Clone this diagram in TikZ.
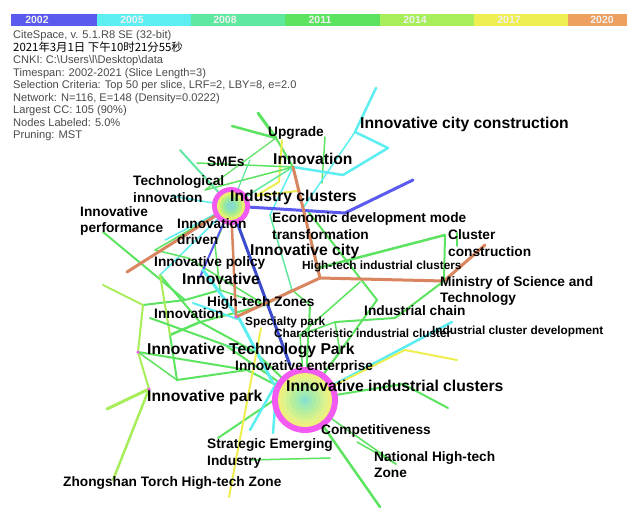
\documentclass[tikz,border=0pt]{standalone}
\usepackage{fontspec}
\setmainfont{Liberation Sans}
\newfontfamily\cjk{Noto Sans CJK SC}
\definecolor{c02}{HTML}{5A5AEE}
\definecolor{c02d}{HTML}{3A4CCC}
\definecolor{c05}{HTML}{5CEEF0}
\definecolor{c08}{HTML}{5EE8A0}
\definecolor{c11}{HTML}{5CE460}
\definecolor{c14}{HTML}{A8EE5A}
\definecolor{c17}{HTML}{EEEE50}
\definecolor{c20}{HTML}{EEA060}
\definecolor{e20c}{HTML}{D88560}
\definecolor{mag}{HTML}{F25AF2}
\definecolor{leg}{HTML}{4A4A4A}
\tikzset{
  ed/.style={line cap=round,line join=round},
  e02/.style={ed,draw=c02,line width=#1}, e02/.default=2.5pt,
  e02d/.style={ed,draw=c02d,line width=#1}, e02d/.default=2.5pt,
  e05/.style={ed,draw=c05,line width=#1}, e05/.default=2pt,
  e08/.style={ed,draw=c08,line width=#1}, e08/.default=2pt,
  e11/.style={ed,draw=c11,line width=#1}, e11/.default=2pt,
  e14/.style={ed,draw=c14,line width=#1}, e14/.default=2pt,
  e17/.style={ed,draw=c17,line width=#1}, e17/.default=2pt,
  e20/.style={ed,draw=e20c,line width=#1}, e20/.default=3pt,
  yearlbl/.style={text=white!94!black,font=\fontsize{10.5}{11}\bfseries,inner sep=0pt},
  legtxt/.style={anchor=mid west,inner sep=0pt,yshift=-1pt,text=leg,font=\fontsize{11.1}{12}\selectfont},
  lblB/.style={anchor=mid west,inner sep=0pt,yshift=-2pt,font=\fontsize{15.7}{17}\bfseries},
  lblM/.style={anchor=mid west,inner sep=0pt,yshift=-2pt,font=\fontsize{13.7}{15}\bfseries},
  lblS/.style={anchor=mid west,inner sep=0pt,yshift=-1.5pt,font=\fontsize{11.8}{13}\bfseries},
  dot/.style={circle,fill=mag,inner sep=0pt,minimum size=3.5pt}
}
\begin{document}
\begin{tikzpicture}[x=1pt,y=-1pt]
\useasboundingbox (0,0) rectangle (627,509);
\fill[white] (0,0) rectangle (627,509);

% ---- colour bar
\foreach \c/\xa/\xb/\xl/\yr in {c02/11/97/37/2002,c05/97/191/132/2005,c08/191/285/225/2008,c11/285/380/320/2011,c14/380/474/415/2014,c17/474/568/509/2017,c20/568/627/602/2020}{
  \fill[\c] (\xa,13.5) rectangle (\xb,26);
  \node[yearlbl] (yr\yr) at (\xl,20) {\yr};
}

% ---- legend
\node[legtxt] (g1) at (13,35) {CiteSpace, v. 5.1.R8 SE (32-bit)};
\node[legtxt,text=black,font=\cjk\fontsize{11.4}{12}\selectfont] (g2) at (13,47.5) {2021年3月1日 下午10时21分55秒};
\node[legtxt] (g3) at (13,60) {CNKI: C:\textbackslash Users\textbackslash l\textbackslash Desktop\textbackslash data};
\node[legtxt] (g4) at (13,72.5) {Timespan: 2002-2021 (Slice Length=3)};
\node[legtxt] (g5) at (13,85) {Selection Criteria: Top 50 per slice, LRF=2, LBY=8, e=2.0};
\node[legtxt] (g6) at (13,97.5) {Network: N=116, E=148 (Density=0.0222)};
\node[legtxt] (g7) at (13,110) {Largest CC: 105 (90\%)};
\node[legtxt] (g8) at (13,122.5) {Nodes Labeled: 5.0\%};
\node[legtxt] (g9) at (13,135) {Pruning: MST};

% ---- coordinates
\coordinate (IC) at (231,206);
\coordinate (IIC) at (305,400);
\coordinate (INN) at (293,167);
\coordinate (UPG) at (276,138);
\coordinate (TG1) at (258,113);
\coordinate (TG2) at (232,126);
\coordinate (CY1) at (376,88);
\coordinate (CY2) at (355,132);
\coordinate (CY3) at (388,148);
\coordinate (CY4) at (343,175);
\coordinate (CY5) at (303,208);
\coordinate (G7a) at (325,137);
\coordinate (G7b) at (322,183);
\coordinate (Y1) at (282,140);
\coordinate (Y2) at (279,182);
\coordinate (Y3) at (256,196);
\coordinate (Y4) at (297,191);
\coordinate (SME) at (205,190);
\coordinate (SMEb) at (197,163);
\coordinate (LG1) at (180,150);
\coordinate (BL1) at (345,213);
\coordinate (BL2) at (413,180);
\coordinate (BLd) at (290,365);
\coordinate (BLc) at (200,277);
\coordinate (BR1) at (127,272);
\coordinate (HZ) at (236,317);
\coordinate (BRj) at (320,278);
\coordinate (MS) at (444,281);
\coordinate (BRe) at (485,245);
\coordinate (CC) at (445,235);
\coordinate (CCt) at (457,233);
\coordinate (CCb) at (457,246);
\coordinate (ICY) at (318,268);
\coordinate (ICH) at (395,318);
\coordinate (ICD) at (452,322);
\coordinate (YL1) at (405,350);
\coordinate (YL2) at (457,360);
\coordinate (GR1) at (403,384);
\coordinate (GR2) at (448,408);
\coordinate (GRB) at (380,507);
\coordinate (NHZ) at (396,464);
\coordinate (COMP) at (357,442);
\coordinate (ITP) at (138,352);
\coordinate (IP) at (149,389);
\coordinate (ZT) at (113,480);
\coordinate (IPL) at (107,409);
\coordinate (LFT) at (103,285);
\coordinate (LFTj) at (143,305);
\coordinate (IPF) at (103,232);
\coordinate (CYa) at (203,270);
\coordinate (CYb) at (240,320);
\coordinate (CYc) at (273,383);
\coordinate (CYd) at (250,430);
\coordinate (CYe) at (273,433);
\coordinate (CYf) at (277,382);
\coordinate (CYg) at (172,196);
\coordinate (CYh) at (165,240);
\coordinate (CYi) at (193,303);
\coordinate (YLa) at (261,328);
\coordinate (YLb) at (229,497);
\coordinate (G8a) at (307,210);
\coordinate (M1) at (160,275);
\coordinate (M2) at (185,300);
\coordinate (M3) at (200,322);
\coordinate (M4) at (170,335);
\coordinate (M5) at (220,290);
\coordinate (M6) at (265,305);
\coordinate (M7) at (292,290);
\coordinate (M8) at (310,305);
\coordinate (M9) at (255,352);
\coordinate (M10) at (177,380);
\coordinate (M11) at (247,370);
\coordinate (M12) at (300,335);
\coordinate (M13) at (335,322);
\coordinate (M14) at (377,300);
\coordinate (M15) at (218,438);
\coordinate (M16) at (280,396);
\coordinate (M17) at (250,460);
\coordinate (M18) at (330,458);
\coordinate (M19) at (155,250);
\coordinate (M20) at (215,245);
\coordinate (M21) at (270,215);
\coordinate (M22) at (360,282);
\coordinate (M23) at (150,318);
\coordinate (M24) at (225,345);
\coordinate (M25) at (188,258);
\coordinate (M26) at (250,160);
\coordinate (M27) at (340,352);

% ---- edges
\draw[e11=3pt] (TG1) -- (UPG);
\draw[e11=2.5pt] (TG2) -- (UPG);
\draw[e11=2pt] (UPG) -- (INN);
\draw[e11=1.2pt] (UPG) -- (SME);
\draw[e17=2pt] (Y1) -- (Y2) -- (Y3);
\draw[e17=2pt] (Y3) -- (Y4);
\draw[e11=1.5pt] (G7a) -- (G7b);
\draw[e05=2.5pt] (CY1) -- (CY2) -- (CY3) -- (CY4) -- (INN);
\draw[e05=1.5pt] (CY2) -- (CY5);
\draw[e11=1.5pt] (SMEb) -- (INN);
\draw[e11=1.5pt] (SME) -- (INN);
\draw[e08=1.5pt] (INN) -- (IC);
\draw[e11=2pt] (INN) -- (ICY);
\draw[e05=1.5pt] (INN) -- (M21);
\draw[e08=1.2pt] (M26) -- (IC);
\draw[e08=2pt] (LG1) -- (IC);
\draw[e05=1.5pt] (CYg) -- (IC);
\draw[e05=1.5pt] (CYh) -- (IC);
\draw[e05=1.5pt] (M1) -- (IC);
\draw[e11=1.5pt] (M19) -- (IC);
\draw[e11=1.5pt] (M20) -- (IC);
\draw[e11=1.5pt] (M20) -- (M5);
\draw[e08=1.5pt] (M21) -- (M7);
\draw[e11=2pt] (IPF) -- (M2);
\draw[e11=2pt] (G8a) -- (M14);
\draw[e11=2pt] (M14) -- (IIC);
\draw[e11=1.5pt] (M22) -- (M12);
% central mesh
\draw[e11=2pt] (M1) -- (M3);
\draw[e11=2pt] (M2) -- (M5);
\draw[e11=2pt] (M3) -- (M6);
\draw[e11=2.5pt] (M4) -- (M3);
\draw[e11=2pt] (M4) -- (M10);
\draw[e11=2pt] (M10) -- (M11);
\draw[e11=2pt] (M11) -- (IIC);
\draw[e11=2pt] (M6) -- (M7);
\draw[e11=1.5pt] (M7) -- (M8);
\draw[e11=2pt] (M8) -- (IIC);
\draw[e11=2pt] (M9) -- (IIC);
\draw[e11=2pt] (M3) -- (M9);
\draw[e11=1.5pt] (M12) -- (M13);
\draw[e11=1.5pt] (M12) -- (IIC);
\draw[e11=2pt] (M15) -- (M16);
\draw[e11=2pt] (M16) -- (IIC);
\draw[e11=1.5pt] (M17) -- (M18);
\draw[e11=2pt] (LFTj) -- (M2);
\draw[e11=1.5pt] (M10) -- (ITP);
\draw[e11=2pt] (ITP) -- (M11);
\draw[e11=1.5pt] (M5) -- (M6);
\draw[e14=2pt] (M1) -- (M4);
\draw[e11=2pt] (M23) -- (M24) -- (IIC);
\draw[e11=1.5pt] (M25) -- (M6);
\draw[e11=1.5pt] (M25) -- (M19);
\draw[e08=1.5pt] (M24) -- (M9);
\draw[e11=1.5pt] (M27) -- (IIC);
\draw[e11=1.5pt] (M27) -- (M13);
% blue
\draw[e02=3pt] (IC) -- (BL1) -- (BL2);
\draw[e02d=3pt] (IC) -- (BLd);
\draw[e02=2pt] (IC) -- (BLc);
% cyan
\draw[e05=3pt] (CYa) -- (CYb) -- (CYc);
\draw[e05=2.5pt] (CYd) -- (CYf);
\draw[e05=2.5pt] (CYe) -- (CYf);
\draw[e05=2pt] (CYi) -- (CYb);
\draw[e05=2.5pt] (IIC) -- (ICD);
% yellow
\draw[e17=2pt] (YLa) -- (YLb);
\draw[e17=2pt] (IIC) -- (YL1) -- (YL2);
% brown
\draw[e20=3pt] (INN) -- (BRj);
\draw[e20=3pt] (IC) -- (BR1);
\draw[e20=2.5pt] (IC) -- (HZ);
\draw[e20=3pt] (HZ) -- (BRj) -- (MS) -- (BRe);
% right green
\draw[e11=2.5pt] (CC) -- (ICY);
\draw[e11=2pt] (CC) -- (MS);
\draw[e11=1.5pt] (CCt) -- (CCb);
\draw[e11=2pt] (MS) -- (ICH) -- (M13);
\draw[e11=2pt] (IIC) -- (GR1) -- (GR2);
\draw[e11=2.5pt] (IIC) -- (GRB);
\draw[e11=1.5pt] (IIC) -- (NHZ);
\draw[e11=1.5pt] (COMP) -- (NHZ);
% left light green
\draw[e14=2.5pt] (IP) -- (ZT);
\draw[e14=3pt] (IP) -- (IPL);
\draw[e14=2pt] (ITP) -- (IP);
\draw[e14=2pt] (ITP) -- (LFTj) -- (LFT);

% ---- cluster nodes
\node[circle,fill=mag,minimum size=66pt,inner sep=0pt] (nIIC) at (IIC) {};
\foreach \r/\col in {27/EEF07E,23/E0F28A,19/CCF092,15/B8EE9C,11/A8ECAA,7/98E8BC,3/88E0D0}{
  \definecolor{tmp}{HTML}{\col}\fill[tmp] (IIC) circle (\r pt);
}
\node[circle,fill=mag,minimum size=38pt,inner sep=0pt] (nIC) at (IC) {};
\foreach \r/\col in {14/E8F070,11/B8EE82,8/96E8A2,5/88DCC8}{
  \definecolor{tmp}{HTML}{\col}\fill[tmp] (IC) circle (\r pt);
}
\node[dot] (dITP) at (ITP) {};
\node[dot] (dIP) at (IP) {};
\node[dot,minimum size=3pt] (dHZ) at (HZ) {};

% ---- labels
\node[lblB] (lICC) at (360,124) {Innovative city construction};
\node[lblM] (lUPG) at (268,132) {Upgrade};
\node[lblB] (lINN) at (273,160) {Innovation};
\node[lblM] (lSME) at (207,162) {SMEs};
\node[lblB] (lIC) at (230,197) {Industry clusters};
\node[lblM] (lTI1) at (133,181) {Technological};
\node[lblM] (lTI2) at (133,198) {innovation};
\node[lblM] (lPF1) at (80,212) {Innovative};
\node[lblM] (lPF2) at (80,228) {performance};
\node[lblM] (lDR1) at (177,224) {Innovation};
\node[lblM] (lDR2) at (177,240) {driven};
\node[lblM] (lEC1) at (272,218) {Economic development mode};
\node[lblM] (lEC2) at (272,235) {transformation};
\node[lblB] (lCITY) at (250,251) {Innovative city};
\node[lblS] (lHTIC) at (302,265) {High-tech industrial clusters};
\node[lblM] (lCC1) at (448,235) {Cluster};
\node[lblM] (lCC2) at (448,252) {construction};
\node[lblM] (lMS1) at (440,282) {Ministry of Science and};
\node[lblM] (lMS2) at (440,298) {Technology};
\node[lblM] (lPOL) at (154,262) {Innovative policy};
\node[lblB] (lINV) at (182,280) {Innovative};
\node[lblM] (lHTZ) at (207,302) {High-tech Zones};
\node[lblM] (lIN3) at (154,314) {Innovation};
\node[lblS] (lSPP) at (245,321) {Specialty park};
\node[lblS] (lCHIC) at (274,333) {Characteristic industrial cluster};
\node[lblM] (lCHN) at (364,311) {Industrial chain};
\node[lblS] (lICD) at (432,330) {Industrial cluster development};
\node[lblB] (lITP) at (147,350) {Innovative Technology Park};
\node[lblM] (lENT) at (235,366) {Innovative enterprise};
\node[lblB] (lIIC) at (286,387) {Innovative industrial clusters};
\node[lblB] (lPARK) at (147,397) {Innovative park};
\node[lblM] (lCOMP) at (321,430) {Competitiveness};
\node[lblM] (lSEI1) at (207,444) {Strategic Emerging};
\node[lblM] (lSEI2) at (207,461) {Industry};
\node[lblM] (lNHZ1) at (374,457) {National High-tech};
\node[lblM] (lNHZ2) at (374,473) {Zone};
\node[lblM] (lZT) at (63,482) {Zhongshan Torch High-tech Zone};
\end{tikzpicture}
\end{document}
